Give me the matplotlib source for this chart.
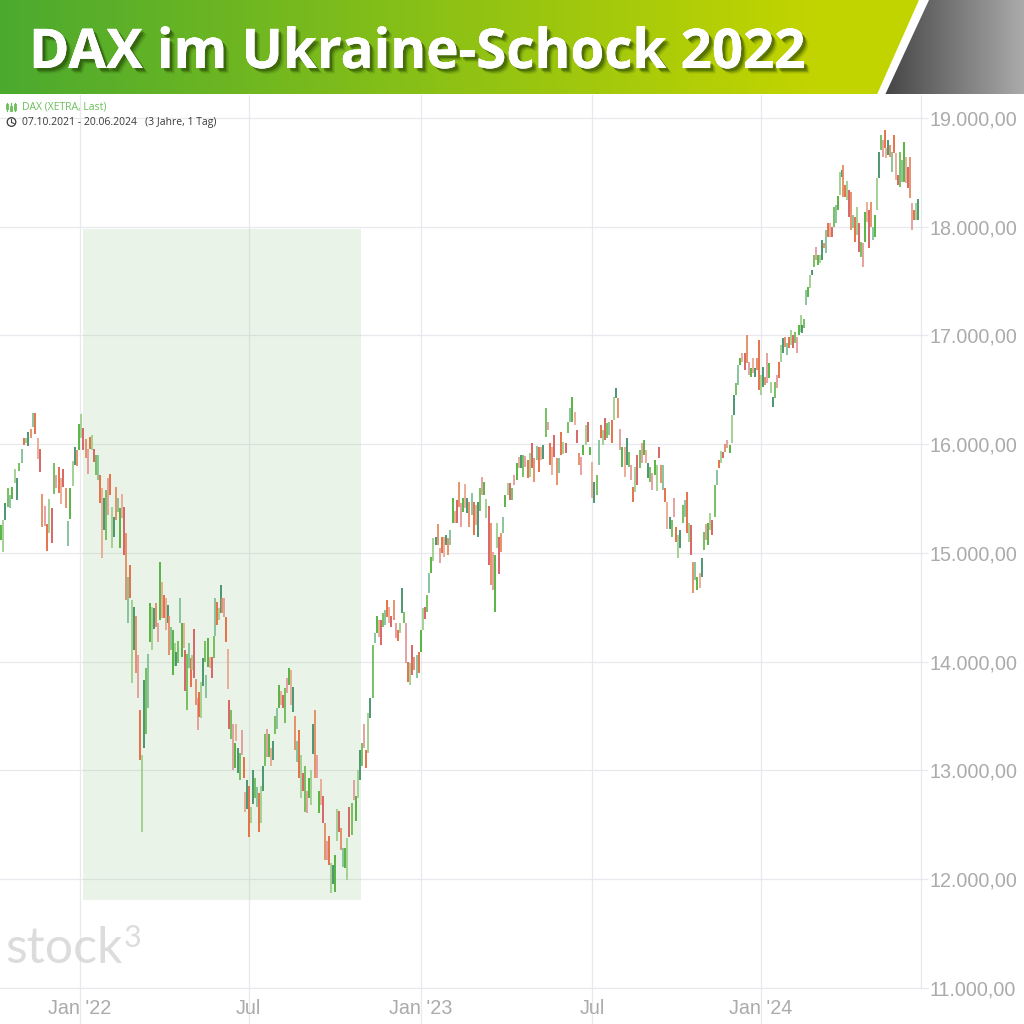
#!/usr/bin/env python
'''
DAX daily bars with the Ukraine shock of 2022 marked
'''

import matplotlib
matplotlib.use('Agg')
import matplotlib.patheffects as pe
import matplotlib.pyplot as plt
import numpy as np
from matplotlib.patches import Circle, Polygon

# bars, one list per quarter: (high, low, direction)
q4_21 = [(15260,15120,'u'),(15300,15010,'u'),(15460,15300,'u'),(15600,15420,'u'),(15530,15410,'u'),(15610,15500,'u'),
         (15770,15640,'u'),(15690,15490,'u'),(15830,15750,'u'),(15960,15830,'u'),(16060,15990,'d'),(16060,16010,'u'),
         (16110,15980,'u'),(16140,16060,'d'),(16290,16160,'u'),(16290,16090,'d'),(16060,15860,'d'),(15960,15740,'d'),
         (15540,15240,'d'),(15430,15250,'d'),(15270,15020,'d'),(15500,15180,'u'),(15410,15090,'d'),(15830,15540,'u'),
         (15720,15600,'d'),(15790,15550,'d'),(15690,15450,'d'),(15770,15610,'d'),(15600,15410,'d'),(15290,15060,'u'),
         (15600,15310,'u'),(15850,15620,'u'),(15970,15810,'u'),(15950,15800,'d')]
q1_22 = [(16190,15945,'u'),(16280,16060,'u'),(16150,15945,'d'),(16045,15870,'d'),(15960,15725,'d'),(16065,15960,'d'),
         (16085,15945,'u'),(15955,15835,'d'),(15900,15715,'u'),(15900,15670,'u'),(15715,15455,'d'),(15595,14950,'d'),
         (15510,15210,'u'),(15575,15115,'u'),(15685,15345,'d'),(15725,15530,'d'),(15420,15050,'u'),(15330,15145,'u'),
         (15605,15300,'d'),(15505,15375,'u'),(15410,15050,'u'),(15540,15320,'d'),(15420,14980,'d'),(15180,14565,'d'),
         (14775,14355,'u'),(14885,14585,'d'),(14565,13800,'u'),(14500,14105,'u'),(14425,13895,'d'),(14060,13665,'d'),
         (13555,13095,'d'),(13140,12430,'u'),(13830,13205,'u'),(13940,13340,'u'),(14070,13570,'u'),(14540,14180,'u'),
         (14500,14105,'u'),(14490,14305,'u'),(14540,14315,'d'),(14360,14180,'d'),(14915,14380,'u'),(14730,14400,'d')]
q2_22 = [(14610,14400,'d'),(14590,14290,'d'),(14520,14360,'u'),(14425,14060,'d'),(14315,14105,'u'),(14290,13875,'u'),
         (14170,13965,'u'),(14085,13965,'u'),(14195,13985,'u'),(14590,14360,'u'),(14360,14040,'u'),(14360,14130,'d'),
         (14105,13735,'d'),(14075,13555,'u'),(14170,13940,'u'),(14030,13765,'d'),(14060,13920,'u'),(14305,13855,'d'),
         (13845,13600,'d'),(13670,13370,'d'),(13720,13490,'d'),(13810,13480,'u'),(14030,13780,'u'),(14195,13995,'u'),
         (13875,13670,'u'),(14215,13950,'u'),(14040,13940,'d'),(14040,13855,'d'),(14240,14030,'u'),(14585,14240,'u'),
         (14545,14335,'d'),(14490,14380,'u'),(14705,14445,'u'),(14585,14445,'d'),(14590,14410,'d'),(14410,14180,'d'),
         (14115,13745,'d'),(13645,13380,'d'),(13560,13285,'u'),(13430,13000,'d'),(13250,13020,'u'),(13430,13275,'d'),
         (13205,12975,'u'),(13160,12910,'u'),(13370,13140,'d'),(13120,12935,'d'),(12800,12615,'d'),(12910,12650,'u')]
q3_22 = [(12860,12385,'d'),(12660,12515,'u'),(13000,12695,'u'),(12935,12750,'u'),(12845,12660,'u'),(12790,12430,'d'),
         (12860,12520,'u'),(13045,12815,'u'),(13340,13045,'u'),(13385,13120,'d'),(13340,13120,'u'),(13205,13040,'d'),
         (13275,13095,'u'),(13505,13340,'u'),(13570,13385,'u'),(13785,13570,'u'),(13735,13600,'d'),(13690,13570,'d'),
         (13755,13440,'u'),(13855,13710,'d'),(13940,13785,'u'),(13920,13600,'d'),(13765,13535,'u'),(13505,13185,'d'),
         (13275,13075,'u'),(13370,12935,'d'),(13140,12750,'u'),(12975,12815,'d'),(13045,12615,'u'),(12815,12605,'d'),
         (12935,12745,'u'),(13000,12680,'u'),(13430,13155,'u'),(13555,12935,'d'),(13140,12935,'d'),(12815,12605,'u'),
         (12925,12680,'d'),(12770,12520,'d'),(12515,12175,'d'),(12355,12175,'d'),(12400,12130,'d'),(12145,11870,'u'),
         (12130,11960,'u')]
q4_22 = [(12220,11880,'u'),(12650,12355,'u'),(12630,12430,'d'),(12475,12265,'d'),(12285,12110,'u'),(12290,12100,'u'),
         (12375,11990,'u'),(12660,12385,'d'),(12705,12405,'u'),(12910,12725,'d'),(12770,12540,'u'),(13000,12745,'u'),
         (13185,12910,'u'),(13250,13045,'u'),(13430,13210,'d'),(13185,13020,'d'),(13525,13165,'u'),(13670,13480,'u'),
         (14150,13670,'u'),(14260,14170,'u'),(14425,14260,'u'),(14380,14225,'d'),(14380,14150,'d'),(14445,14315,'u'),
         (14475,14335,'u'),(14565,14410,'d'),(14500,14360,'d'),(14425,14315,'d'),(14565,14380,'d'),(14360,14215,'d'),
         (14290,14195,'d'),(14360,14260,'u'),(14675,14445,'u'),(14455,14360,'u'),(14355,13985,'d'),(13995,13810,'d'),
         (13985,13785,'u'),(14150,13875,'d'),(14040,13920,'d'),(14060,13855,'u'),(14085,13900,'d')]
q1_23 = [(14290,14085,'u'),(14490,14290,'u'),(14500,14390,'d'),(14610,14455,'u'),(14820,14630,'u'),(14960,14820,'u'),
         (15135,14930,'u'),(15145,15070,'u'),(15265,15070,'d'),(15045,14905,'d'),(15145,15000,'d'),(15145,14960,'d'),
         (15165,15070,'u'),(15135,14980,'d'),(15210,15070,'u'),(15510,15275,'u'),(15390,15275,'d'),(15485,15275,'d'),
         (15650,15420,'d'),(15455,15235,'d'),(15510,15375,'u'),(15630,15410,'d'),(15510,15365,'u'),(15465,15235,'d'),
         (15550,15345,'u'),(15465,15165,'d'),(15440,15255,'d'),(15465,15145,'u'),(15595,15390,'u'),(15695,15530,'d'),
         (15650,15530,'u'),(15495,15320,'u'),(15430,14885,'d'),(15275,14705,'d'),(15005,14655,'d'),(14980,14455,'u'),
         (15280,15050,'u'),(15145,14810,'d'),(15180,15005,'d'),(15330,15180,'u')]
q2_23 = [(15530,15420,'u'),(15640,15530,'u'),(15640,15485,'d'),(15595,15485,'u'),(15715,15625,'d'),(15825,15670,'u'),
         (15880,15780,'d'),(15900,15780,'u'),(15900,15695,'u'),(15890,15790,'d'),(15855,15685,'d'),(15915,15695,'u'),
         (16010,15780,'d'),(15870,15650,'d'),(15980,15855,'u'),(15970,15740,'d'),(15970,15855,'d'),(15990,15860,'u'),
         (16330,16065,'u'),(16200,16130,'d'),(16010,15805,'d'),(15970,15715,'d'),(16085,15880,'d'),(15870,15625,'d'),
         (15870,15735,'u'),(16110,15900,'d'),(16020,15910,'u'),(16010,15915,'d'),(16200,16100,'u'),(16330,16200,'u'),
         (16430,16200,'u'),(16295,16175,'d'),(16130,16010,'d'),(15915,15805,'d'),(15880,15715,'d'),(15990,15900,'u'),
         (16175,15990,'u'),(16200,16020,'d')]
q3_23 = [(15970,15900,'u'),(15835,15505,'d'),(15650,15455,'u'),(15715,15530,'u'),(16035,15805,'u'),(16175,16055,'d'),
         (16130,15990,'u'),(16240,16035,'d'),(16195,16055,'u'),(16200,16085,'u'),(16220,16010,'d'),(16430,16220,'u'),
         (16515,16425,'u'),(16425,16240,'d'),(16140,15945,'d'),(15970,15790,'u'),(15970,15695,'d'),(16055,15805,'u'),
         (15925,15790,'u'),(15805,15670,'d'),(15605,15465,'d'),(15790,15560,'u'),(15900,15625,'d'),(15945,15780,'u'),
         (16010,15825,'d'),(16035,15900,'u'),(15945,15825,'d'),(15825,15685,'u'),(15790,15650,'u'),(15735,15575,'d'),
         (15855,15715,'u'),(15805,15570,'u'),(15970,15870,'d'),(15805,15640,'d'),(15805,15575,'u'),(15595,15465,'d'),
         (15465,15225,'d'),(15330,15225,'u'),(15300,15145,'u'),(15505,15330,'d')]
q4_23 = [(15235,15100,'d'),(15165,14950,'u'),(15210,15050,'u'),(15440,15275,'u'),(15485,15330,'u'),(15560,15180,'d'),
         (15280,15100,'u'),(15255,14980,'d'),(14915,14630,'d'),(14915,14750,'u'),(14775,14655,'u'),(14820,14675,'d'),
         (14950,14775,'u'),(15190,15025,'u'),(15265,15115,'d'),(15280,15070,'u'),(15365,15210,'u'),(15300,15165,'d'),
         (15625,15330,'u'),(15760,15625,'u'),(15855,15780,'d'),(15935,15825,'u'),(15925,15870,'d'),(16000,15925,'d'),
         (16035,15965,'d'),(15990,15915,'u'),(16265,16010,'u'),(16450,16265,'u'),(16560,16450,'u'),(16725,16540,'u'),
         (16790,16725,'u'),(16835,16755,'d'),(16835,16680,'d'),(17000,16745,'d'),(16755,16635,'d'),(16700,16615,'u'),
         (16790,16655,'d'),(16700,16615,'u'),(16790,16680,'d')]
q1_24 = [(16955,16495,'d'),(16635,16450,'u'),(16710,16525,'u'),(16615,16545,'d'),(16835,16560,'d'),(16745,16605,'u'),
         (16570,16470,'u'),(16430,16340,'u'),(16570,16425,'u'),(16635,16515,'d'),(16755,16605,'d'),(16910,16755,'u'),
         (16975,16835,'u'),(16985,16890,'d'),(16930,16820,'u'),(16985,16885,'d'),(17050,16910,'u'),(17000,16885,'d'),
         (17030,16930,'u'),(16985,16835,'d'),(17095,17000,'u'),(17185,17030,'u'),(17095,17020,'u'),(17150,17065,'u'),
         (17415,17280,'u'),(17445,17350,'u'),(17555,17435,'u'),(17600,17555,'u'),(17740,17630,'u'),(17810,17695,'d'),
         (17740,17645,'u'),(17740,17665,'u'),(17875,17695,'u'),(17850,17805,'d'),(17970,17755,'u'),(18035,17905,'d'),
         (18035,17905,'d'),(18000,17905,'d'),(18180,18000,'u'),(18200,18035,'u'),(18280,18155,'u'),(18500,18290,'u'),
         (18520,18455,'u'),(18565,18270,'d')]
q2_24 = [(18385,18270,'d'),(18420,18245,'u'),(18335,18090,'d'),(18320,17970,'d'),(18105,17985,'u'),(18090,17860,'d'),
         (18180,17925,'u'),(18035,17765,'d'),(17860,17720,'u'),(17850,17630,'d'),(18135,17860,'u'),(18225,18040,'d'),
         (18155,17805,'d'),(18225,18000,'d'),(18000,17875,'u'),(18105,17905,'u'),(18445,18155,'u'),(18685,18445,'u'),
         (18845,18705,'u'),(18800,18640,'d'),(18890,18725,'d'),(18725,18630,'d'),(18800,18660,'u'),(18750,18640,'d'),
         (18685,18500,'u'),(18845,18675,'d'),(18675,18430,'d'),(18475,18385,'d'),(18685,18365,'u'),(18610,18410,'u'),
         (18780,18410,'u'),(18640,18400,'d'),(18550,18355,'d'),(18640,18265,'d'),(18215,17970,'d'),(18155,18060,'d'),
         (18215,18060,'u'),(18255,18060,'u')]

quarters = [q4_21, q1_22, q2_22, q3_22, q4_22, q1_23, q2_23, q3_23, q4_23, q1_24, q2_24]
# x axis counts trading sessions, not calendar days
quarter_sessions = [0.5, 61, 126, 191, 257, 323, 388, 453, 519, 583, 649, 706]

tick_sessions = [61.4, 191, 323.2, 454.5, 584]
tick_names = ["Jan '22", "Jul", "Jan '23", "Jul", "Jan '24"]
level_values = [11000, 12000, 13000, 14000, 15000, 16000, 17000, 18000, 19000]
level_names = ['11.000,00', '12.000,00', '13.000,00', '14.000,00', '15.000,00',
               '16.000,00', '17.000,00', '18.000,00', '19.000,00']

shock_sessions = (63.7, 277)
shock_levels = (11807, 17980)

up_colors = ['#4CAF35', '#9CCF8B', '#3F8F68', '#6DBB55', '#7FC096']
down_colors = ['#E5673A', '#E8A890', '#D75B5B', '#E48A60', '#E39A9A']
grid_color = '#E8E8EF'
label_color = '#ABABAB'

fig = plt.figure(figsize=(10.24, 10.24), dpi=100, facecolor='w')

# price chart
ax = fig.add_axes([0, 36 / 1024, 921 / 1024, 893 / 1024])
ax.set_xlim(0, 707)
ax.set_ylim(11000, 19211)
ax.set_axisbelow(True)
ax.grid(True, color=grid_color, linewidth=0.9, zorder=0.5)

ax.fill_between(shock_sessions, shock_levels[0], shock_levels[1], color='#8CC07A',
                alpha=0.18, linewidth=0, zorder=1)

for i, bars in enumerate(quarters):
    xs = np.linspace(quarter_sessions[i], quarter_sessions[i + 1], len(bars), endpoint=False)
    for j, (x, (high, low, direction)) in enumerate(zip(xs, bars)):
        palette = up_colors if direction == 'u' else down_colors
        ax.vlines(x, low, high, color=palette[j % len(palette)], linewidth=1.3, zorder=2)

ax.set_xticks(tick_sessions)
ax.set_xticklabels(tick_names, fontname='Liberation Sans', fontsize=14.2, color=label_color)
ax.tick_params(axis='x', length=26, width=0.9, color=grid_color, pad=-18)
ax.yaxis.tick_right()
ax.set_yticks(level_values)
ax.set_yticklabels(level_names, fontname='Liberation Sans', fontsize=14.2, color=label_color)
ax.tick_params(axis='y', length=5, width=0.9, color=grid_color, pad=1.2)
for side in ['top', 'left']:
    ax.spines[side].set_visible(False)
for side in ['bottom', 'right']:
    ax.spines[side].set_color(grid_color)
    ax.spines[side].set_linewidth(0.9)

# pixel overlay for banner, legend and watermark
top = fig.add_axes([0, 0, 1, 1], facecolor='none')
top.set_xlim(0, 1024)
top.set_ylim(1024, 0)
top.axis('off')


def gradient(x0, x1, flat, left, right, poly):
    ramp = np.clip(np.linspace(x0, x1, 512) / (flat - x0) - x0 / (flat - x0), 0, 1)[None, :, None]
    left = np.array(matplotlib.colors.to_rgb(left))[None, None, :]
    right = np.array(matplotlib.colors.to_rgb(right))[None, None, :]
    im = top.imshow(left + (right - left) * ramp, extent=(x0, x1, 94.5, 0), aspect='auto', zorder=3)
    patch = Polygon(poly, closed=True, transform=top.transData, facecolor='none', edgecolor='none')
    top.add_patch(patch)
    im.set_clip_path(patch)


gradient(0, 930, 810, '#4BAA2F', '#C2D400', [(0, 0), (919, 0), (877, 94.5), (0, 94.5)])
gradient(885, 1024, 1024, '#454545', '#ABABAB', [(929, 0), (1024, 0), (1024, 94.5), (885, 94.5)])
top.set_xlim(0, 1024)
top.set_ylim(1024, 0)

title = top.text(29, 68, 'DAX im Ukraine-Schock 2022', fontname='Open Sans', fontweight='bold',
                 fontsize=39.4, color='white', zorder=5)
title.set_path_effects([
    pe.withSimplePatchShadow(offset=(4, -4), shadow_rgbFace='#1E3A00', alpha=0.12),
    pe.withSimplePatchShadow(offset=(3, -3), shadow_rgbFace='#1E3A00', alpha=0.25),
    pe.withSimplePatchShadow(offset=(2, -2), shadow_rgbFace='#1E3A00', alpha=0.4),
    pe.Normal(),
])

# legend lines
top.text(22, 107, 'DAX (XETRA, Last)', fontname='Open Sans', fontsize=7.5, color='#6ABF58',
         va='center', zorder=5)
top.text(22, 122.5, '07.10.2021 - 20.06.2024   (3 Jahre, 1 Tag)', fontname='Open Sans', fontsize=7.5,
         color='#3A3A3A', va='center', zorder=5)
for x, y0, y1 in [(7, 103, 111), (11, 103, 111), (15, 103, 111)]:
    top.plot([x, x], [y0, y1], color='#6ABF58', linewidth=0.9, zorder=5)
for x, y0, y1 in [(7, 105, 108), (11, 107, 110), (15, 105, 109)]:
    top.plot([x, x], [y0, y1], color='#6ABF58', linewidth=2, zorder=5)
top.add_patch(Circle((11.5, 122), 4.3, facecolor='none', edgecolor='#3A3A3A', linewidth=0.9, zorder=5))
top.plot([11.5, 11.5, 14], [119.5, 122.5, 123.5], color='#3A3A3A', linewidth=0.8, zorder=5)

# watermark
top.text(5, 963, 'stock', fontname='Lato', fontsize=36, color='#D4D4D4', alpha=0.8, zorder=5)
top.text(124, 947, '3', fontname='Lato', fontsize=22, color='#D4D4D4', alpha=0.8, zorder=5)

fig.savefig('out.png', dpi=100)
